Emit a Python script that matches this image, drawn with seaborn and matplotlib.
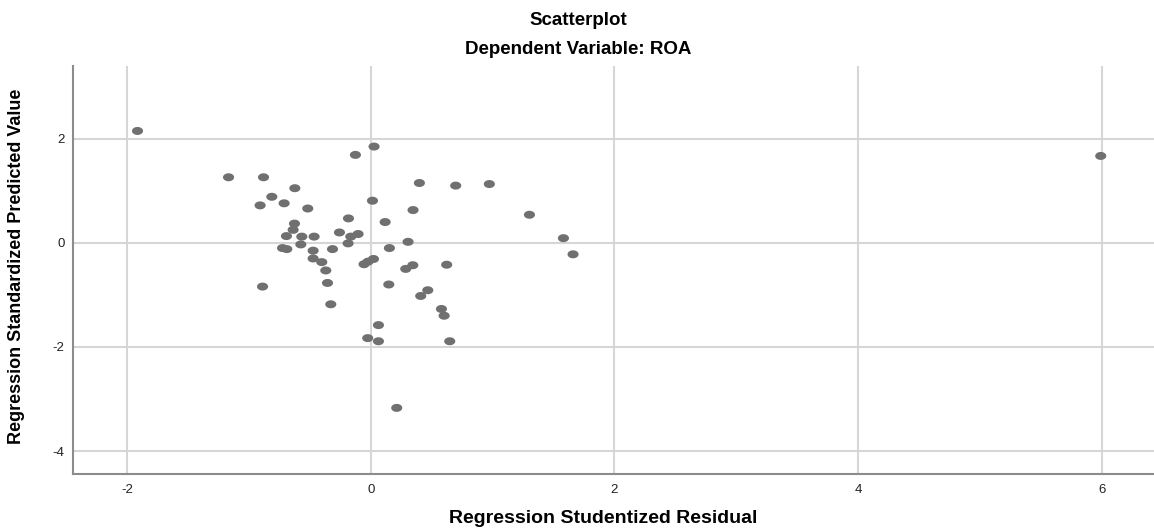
import numpy as np
import matplotlib
matplotlib.use("Agg")
import matplotlib.pyplot as plt
from matplotlib.path import Path
import pandas as pd
import seaborn as sns

studentized_residual = [
    -1.914, -1.167, -0.880, -0.623, -0.812, -0.908, -0.711, -0.517, -0.126, 0.027,
    0.014, -0.183, 0.118, -0.626, -0.637, -0.692, -0.566, -0.465, -0.257, -0.164,
    -0.104, -0.186, -0.724, -0.689, -0.574, -0.473, -0.314, 0.153, -0.473, -0.402,
    -0.369, -0.055, -0.022, 0.022, -0.355, 0.148, -0.888, -0.328, 0.399, 0.697,
    0.973, 1.302, 0.347, 0.306, 0.623, 0.345, 0.287, 0.468, 0.410, 0.580,
    0.602, 0.063, -0.025, 0.063, 0.648, 0.213, 1.581, 1.660, 5.990,
]
standardized_predicted = [
    2.15, 1.26, 1.26, 1.05, 0.885, 0.72, 0.76, 0.66, 1.69, 1.85,
    0.81, 0.47, 0.40, 0.37, 0.25, 0.13, 0.12, 0.12, 0.20, 0.12,
    0.17, -0.01, -0.10, -0.12, -0.03, -0.15, -0.12, -0.10, -0.30, -0.37,
    -0.53, -0.41, -0.36, -0.31, -0.77, -0.80, -0.84, -1.18, 1.15, 1.10,
    1.13, 0.54, 0.63, 0.02, -0.42, -0.43, -0.50, -0.91, -1.02, -1.27,
    -1.40, -1.58, -1.83, -1.89, -1.89, -3.17, 0.09, -0.22, 1.67,
]
x_ticks = [-2, 0, 2, 4, 6]
y_ticks = [-4, -2, 0, 2]

df = pd.DataFrame({"resid": studentized_residual, "pred": standardized_predicted})

sns.set_theme(style="white")
plt.rcParams["font.family"] = ["Liberation Sans", "DejaVu Sans"]
plt.rcParams["axes.unicode_minus"] = False  # SPSS uses a plain hyphen

# slightly wide ellipse, like the SPSS dots
t = np.linspace(0, 2 * np.pi, 40)
ellipse = Path(np.column_stack([np.cos(t), np.sin(t) * 0.72]), closed=True)

fig = plt.figure(figsize=(11.54, 5.30), dpi=100)
ax = fig.add_axes([0.0633, 0.1057, 0.9367, 0.770])

sns.scatterplot(
    data=df, x="resid", y="pred", ax=ax,
    marker=ellipse, s=64, color="#707070", edgecolor="none", linewidth=0, zorder=3,
)

ax.set_xlim(-2.443, 6.427)
ax.set_ylim(-4.44, 3.40)
ax.set_xticks(x_ticks)
ax.set_yticks(y_ticks)
ax.grid(True, color="#d6d6d6", linewidth=1.5)
ax.set_axisbelow(True)
ax.tick_params(length=0, labelsize=9.5, colors="#222222")
ax.tick_params(axis="x", pad=7)
ax.tick_params(axis="y", pad=6)

for side in ["top", "right"]:
    ax.spines[side].set_visible(False)
for side in ["left", "bottom"]:
    ax.spines[side].set_color("#8c8c8c")
    ax.spines[side].set_linewidth(1.5)

ax.set_xlabel("Regression Studentized Residual", fontsize=14, fontweight="bold", color="black")
ax.xaxis.set_label_coords(0.49, -0.108)
ax.xaxis.label.set_va("center")
ax.set_ylabel("Regression Standardized Predicted Value", fontsize=13, fontweight="bold", color="black")
ax.yaxis.set_label_coords(-0.052, 0.51)
ax.yaxis.label.set_va("center")

fig.text(0.501, 0.962, "Scatterplot", ha="center", va="center",
         fontsize=13.5, fontweight="bold", color="black")
fig.text(0.501, 0.9075, "Dependent Variable: ROA", ha="center", va="center",
         fontsize=13.5, fontweight="bold", color="black")

fig.savefig("out.png", dpi=100)
